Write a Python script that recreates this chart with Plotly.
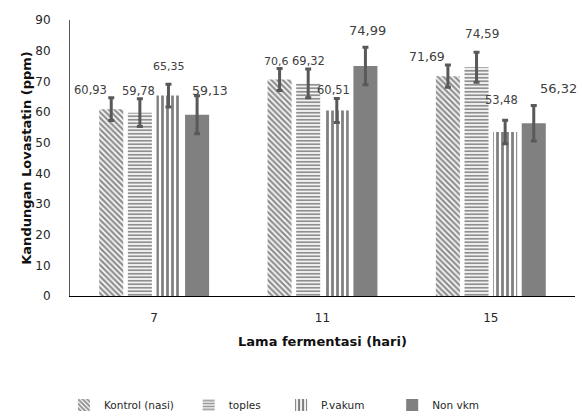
import plotly.graph_objects as go

# ---- data ----
categories = ["7", "11", "15"]
series_names = ["Kontrol (nasi)", "toples", "P.vakum", "Non vkm"]
kontrol = [60.93, 70.60, 71.69]
toples = [59.78, 69.32, 74.59]
pvakum = [65.35, 60.51, 53.48]
nonvkm = [59.13, 74.99, 56.32]
kontrol_err = [3.7, 3.6, 3.6]
toples_err = [4.5, 4.7, 4.9]
pvakum_err = [3.7, 3.9, 3.8]
nonvkm_err = [6.2, 6.1, 5.8]
label_texts = [
    ["60,93", "70,6", "71,69"],
    ["59,78", "69,32", "74,59"],
    ["65,35", "60,51", "53,48"],
    ["59,13", "74,99", "56,32"],
]
y_ticks = [0, 10, 20, 30, 40, 50, 60, 70, 80, 90]

values = [kontrol, toples, pvakum, nonvkm]
errors = [kontrol_err, toples_err, pvakum_err, nonvkm_err]

# ---- styles ----
FONT = "DejaVu Sans"
TXT = "#262626"
patterns = [
    dict(shape="\\", fgcolor="#222222", bgcolor="white", size=4, solidity=0.6),
    dict(shape="-", fgcolor="#222222", bgcolor="white", size=3.5, solidity=0.55),
    dict(shape="|", fgcolor="#000000", bgcolor="white", size=5, solidity=0.55),
    None,
]
colors = ["#444444", "#444444", "#111111", "#808080"]
# label nudges (px) relative to bar top / bar centre
label_dy = [[19, 18, 20], [22, 22, 33], [29, 20, 32], [24, 36, 35]]
label_dx = [[-21, -3, -21], [-1, 0, 5], [1, -3, -4], [13, 2, 25]]
label_size = [[11.5, 11, 12.5], [11.5, 11.5, 12], [11, 11.5, 11.5], [12.5, 13, 13]]
legend_x = [-0.012, 0.235, 0.418, 0.638]

bargap = 0.32
fig = go.Figure()
for i, name in enumerate(series_names):
    mk = dict(color=colors[i], line=dict(width=0))
    if patterns[i] is not None:
        mk["pattern"] = patterns[i]
    fig.add_trace(go.Bar(
        x=categories, y=values[i], name=name, marker=mk,
        error_y=dict(type="data", array=errors[i], color="#595959",
                     thickness=3, width=3),
        legend="legend" if i == 0 else f"legend{i+1}",
    ))

plot_w = 582 - 70 - 7
cat_w = plot_w / len(categories)
slot = cat_w * (1 - bargap) / len(series_names)
for i in range(len(series_names)):
    off = (i - (len(series_names) - 1) / 2) * slot
    for j, c in enumerate(categories):
        fig.add_annotation(
            x=j, y=values[i][j], xref="x", yref="y",
            text=label_texts[i][j], showarrow=False,
            xshift=off + label_dx[i][j], yshift=label_dy[i][j],
            font=dict(family=FONT, size=label_size[i][j], color="#404040"),
        )

leg_common = dict(orientation="h", y=-0.395, yanchor="middle",
                  xanchor="left", font=dict(family=FONT, size=10.5, color=TXT),
                  bgcolor="rgba(0,0,0,0)", itemwidth=30)
layout_legends = {}
for i in range(len(series_names)):
    key = "legend" if i == 0 else f"legend{i+1}"
    layout_legends[key] = dict(leg_common, x=legend_x[i])

fig.update_layout(
    width=582, height=417,
    margin=dict(l=70, r=7, t=20, b=121, autoexpand=False),
    paper_bgcolor="white", plot_bgcolor="white",
    barmode="group", bargap=bargap, bargroupgap=0.16,
    font=dict(family=FONT, color=TXT),
    showlegend=True,
    xaxis=dict(
        type="category", range=[-0.5, len(categories) - 0.5], autorange=False,
        automargin=False,
        showline=True, linecolor="#000000", linewidth=1,
        ticks="", showgrid=False, ticklabelstandoff=11,
        tickfont=dict(family=FONT, size=12, color=TXT),
        title=dict(text="<b>Lama fermentasi (hari)</b>", standoff=12,
                   font=dict(family=FONT, size=13, color="#111111")),
    ),
    yaxis=dict(
        range=[0, 90], autorange=False, tickvals=y_ticks, showline=True,
        automargin=False,
        linecolor="#595959",
        linewidth=1, showgrid=False, zeroline=False, ticks="",
        ticklabelstandoff=16,
        tickfont=dict(family=FONT, size=12, color=TXT),
        title=dict(text="<b>Kandungan Lovastatin (ppm)</b>", standoff=0,
                   font=dict(family=FONT, size=13, color="#111111")),
    ),
    **layout_legends,
)

fig.write_html("out.html", config={"displayModeBar": False},
               post_script="document.body.style.margin='0';"
                           "document.body.style.overflow='hidden';")
